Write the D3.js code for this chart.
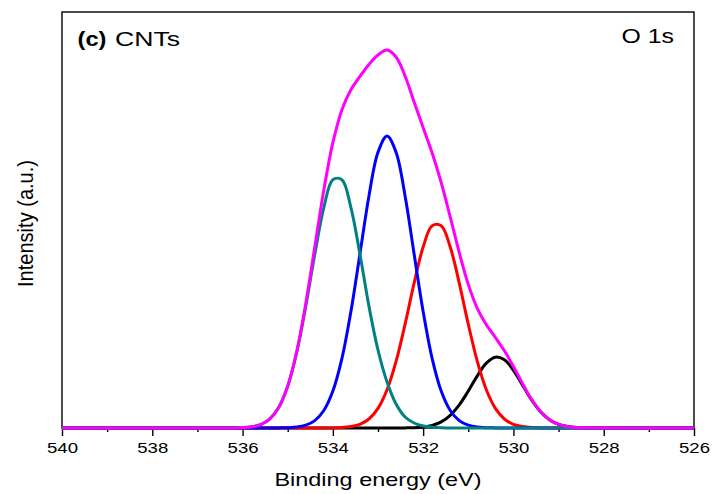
<!DOCTYPE html>
<html>
<head>
<meta charset="utf-8">
<script src="https://cdn.jsdelivr.net/npm/d3@7/dist/d3.min.js"></script>
<style>
    body { margin: 0; background: #fff; }
    svg text { font-family: Arial, "Liberation Sans", sans-serif; fill: #000; }
</style>
</head>
<body>
<svg id="chart" width="713" height="494"></svg>
<script>
// binding energy grid (eV)
const energies = [540,
    536.4, 536.2, 536.0, 535.8, 535.6, 535.4, 535.2, 535.0, 534.8, 534.6,
    534.4, 534.2, 534.0, 533.8, 533.6, 533.4, 533.2, 533.0, 532.8, 532.6,
    532.4, 532.2, 532.0, 531.8, 531.6, 531.4, 531.2, 531.0, 530.8, 530.6,
    530.4, 530.2, 530.0, 529.8, 529.6, 529.4, 529.2, 529.0, 528.8, 528.6,
    528.4, 526];

// fitted components (a.u.)
const peakTeal = [0,
    0, 0.1, 0.4, 1.2, 3.4, 8.9, 20.4, 41.7, 75.6, 121.6,
    173.8, 220.4, 248.3, 248.3, 220.4, 173.8, 121.6, 78, 46, 24,
    11, 5, 2, 0.8, 0.3, 0, 0, 0, 0, 0,
    0, 0, 0, 0, 0, 0, 0, 0, 0, 0,
    0, 0];

const peakBlue = [0,
    0, 0, 0, 0, 0, 0, 0.1, 0.3, 0.9, 2.8,
    7.4, 17.5, 36.9, 69.4, 116.5, 174.1, 232.1, 275.7, 292, 275.7,
    232.1, 174.1, 116.5, 69.4, 36.9, 17.5, 7.4, 2.8, 0.9, 0.3,
    0.1, 0, 0, 0, 0, 0, 0, 0, 0, 0,
    0, 0];

const peakRed = [0,
    0, 0, 0, 0, 0, 0, 0, 0, 0, 0,
    0, 0, 0.1, 0.4, 1.4, 3.7, 9.0, 19.6, 38.2, 66.6,
    103.8, 144.9, 180.9, 202.2, 202.2, 180.9, 144.9, 103.8, 66.6, 38.2,
    19.6, 9.0, 3.7, 1.4, 0.4, 0.1, 0, 0, 0, 0,
    0, 0];

const peakBlack = [0,
    0, 0, 0, 0, 0, 0, 0, 0, 0, 0,
    0, 0, 0, 0, 0, 0, 0, 0, 0, 0,
    0.1, 0.3, 1.0, 2.6, 6.1, 12.7, 23.1, 37.0, 52.1, 64.8,
    70.8, 68.2, 57.7, 43.1, 28.3, 16.3, 8.3, 3.7, 1.5, 0.5,
    0.2, 0];

// measured envelope
const envelope = [0,
    0, 0.1, 0.4, 1.2, 3.4, 8.9, 20.5, 42.0, 76.5, 124.4,
    181.2, 237.9, 285.3, 318.1, 338.3, 351.6, 363.5, 373.0, 378.0, 371.0,
    352.0, 326.0, 300.4, 275.0, 245.5, 211.1, 175.4, 143.6, 119.6, 103.3,
    90.5, 77.2, 61.4, 44.5, 28.7, 16.4, 8.3, 3.7, 1.5, 0.5,
    0.2, 0];

const majorTicks = [540, 538, 536, 534, 532, 530, 528, 526];
const minorTicks = [539, 537, 535, 533, 531, 529, 527];

const svg = d3.select('#chart');

let x = d3.scaleLinear()
    .domain([540, 526])
    .range([62, 694]);

let y = d3.scaleLinear()
    .domain([0, 416])
    .range([428, 12]);

// frame
svg.append('rect')
    .attr('x', x(540))
    .attr('y', y(416))
    .attr('width', x(526) - x(540))
    .attr('height', y(0) - y(416))
    .attr('fill', 'none')
    .attr('stroke', '#000')
    .attr('stroke-width', 1.4);

svg.append('g')
    .attr('transform', `translate(0,${y(0)})`)
    .call(d3.axisBottom(x).tickValues(minorTicks).tickSize(4).tickFormat(''))
    .call(g => g.select('.domain').remove())
    .call(g => g.selectAll('line').attr('stroke-width', 1.4));

svg.append('g')
    .attr('transform', `translate(0,${y(0)})`)
    .call(d3.axisBottom(x).tickValues(majorTicks).tickSize(8).tickFormat(d3.format('d')))
    .call(g => g.select('.domain').remove())
    .call(g => g.selectAll('line').attr('stroke-width', 1.4))
    .call(g => g.selectAll('text')
        .attr('y', 25)
        .attr('dy', null)
        .attr('font-size', 15.5)
        .attr('textLength', 31)
        .attr('lengthAdjust', 'spacingAndGlyphs'));

// curves
let line = d3.line()
    .x((d, i) => x(energies[i]))
    .y(d => y(d))
    .curve(d3.curveCatmullRom.alpha(0.5));

let series = [
    {values: peakBlack, color: '#000000'},
    {values: peakRed, color: '#ff0000'},
    {values: peakBlue, color: '#0000ff'},
    {values: peakTeal, color: '#008080'},
    {values: envelope, color: '#ff00ff'}
];

svg.append('g')
    .selectAll('path')
    .data(series)
    .enter()
    .append('path')
    .attr('d', d => line(d.values))
    .attr('fill', 'none')
    .attr('stroke', d => d.color)
    .attr('stroke-width', 3)
    .attr('stroke-linejoin', 'round');

// labels
svg.append('text')
    .attr('x', 77.5)
    .attr('y', 45.5)
    .attr('font-size', 19.5)
    .attr('font-weight', 'bold')
    .attr('textLength', 29)
    .attr('lengthAdjust', 'spacingAndGlyphs')
    .text('(c)');

svg.append('text')
    .attr('x', 115)
    .attr('y', 45.5)
    .attr('font-size', 19.5)
    .attr('textLength', 65)
    .attr('lengthAdjust', 'spacingAndGlyphs')
    .text('CNTs');

svg.append('text')
    .attr('x', 621.5)
    .attr('y', 43)
    .attr('font-size', 20)
    .attr('textLength', 52.5)
    .attr('lengthAdjust', 'spacingAndGlyphs')
    .text('O 1s');

svg.append('text')
    .attr('x', 274.5)
    .attr('y', 485.5)
    .attr('font-size', 18.6)
    .attr('textLength', 207)
    .attr('lengthAdjust', 'spacingAndGlyphs')
    .text('Binding energy (eV)');

svg.append('text')
    .attr('transform', 'translate(33,223.5) rotate(-90) scale(1,1.2)')
    .attr('text-anchor', 'middle')
    .attr('font-size', 18)
    .attr('textLength', 127)
    .attr('lengthAdjust', 'spacingAndGlyphs')
    .text('Intensity (a.u.)');
</script>
</body>
</html>
